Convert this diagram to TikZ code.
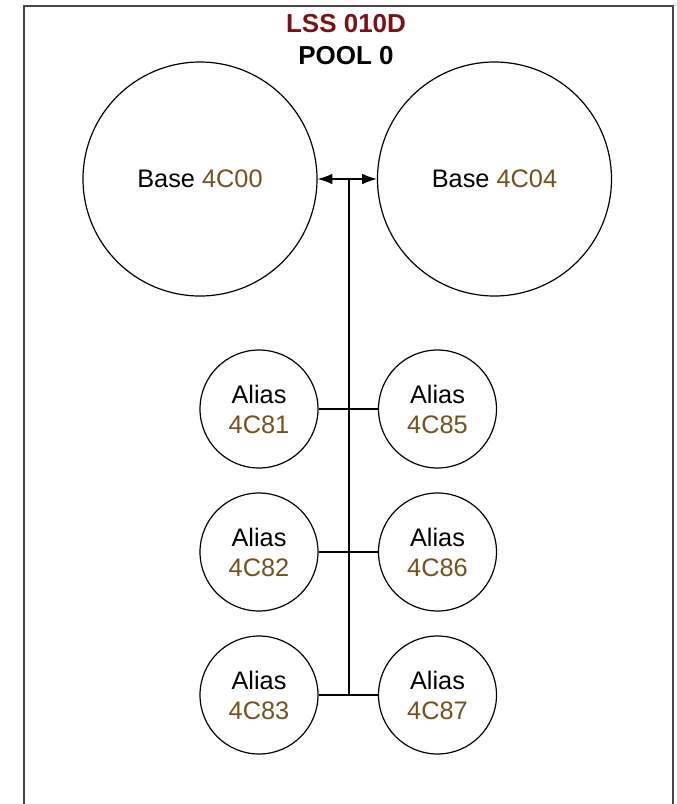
\documentclass[tikz,border=0pt]{standalone}
\usepackage{fontspec}
\setmainfont{Liberation Sans}
\usetikzlibrary{arrows.meta}
\definecolor{titlered}{RGB}{120,20,25}
\definecolor{idbrown}{RGB}{115,82,30}
\definecolor{framegray}{RGB}{70,70,70}
\tikzset{
  volume/.style = {circle, draw, line width=0.9pt, inner sep=0pt, align=center},
  base/.style = {volume, minimum size=175.5pt},
  alias/.style = {volume, minimum size=88.5pt},
  link/.style = {line width=1.2pt}
}
\newcommand{\devid}[1]{\textcolor{idbrown}{#1}}

\begin{document}
\begin{tikzpicture}[x=0.75pt,y=-0.75pt,font=\fontsize{19}{22.5}\selectfont]

  \useasboundingbox (0,0) rectangle (677,804);
  \draw[framegray,line width=2.2pt] (24,804) -- (24,6) -- (673,6) -- (673,804);

  \node[font=\fontsize{19.5}{24}\selectfont\bfseries,align=center] (lss) at (346,40)
    {\textcolor{titlered}{LSS 010D}\\POOL 0};

  % base devices
  \node[base] (b00) at (200,179) {Base \devid{4C00}};
  \node[base] (b04) at (494.5,179) {Base \devid{4C04}};

  % alias devices
  \node[alias] (a81) at (259,409) {Alias\\\devid{4C81}};
  \node[alias] (a85) at (437.5,409) {Alias\\\devid{4C85}};
  \node[alias] (a82) at (259,552) {Alias\\\devid{4C82}};
  \node[alias] (a86) at (437.5,552) {Alias\\\devid{4C86}};
  \node[alias] (a83) at (259,695) {Alias\\\devid{4C83}};
  \node[alias] (a87) at (437.5,695) {Alias\\\devid{4C87}};

  \coordinate (hub) at (349,179);
  \draw[link,{Latex[length=11pt,width=8pt]}-{Latex[length=11pt,width=8pt]}] (b00.east) -- (b04.west);
  \draw[link] (hub) -- (hub |- a83.east);
  \draw[link] (a81.east) -- (a85.west);
  \draw[link] (a82.east) -- (a86.west);
  \draw[link] (a83.east) -- (a87.west);
\end{tikzpicture}
\end{document}
